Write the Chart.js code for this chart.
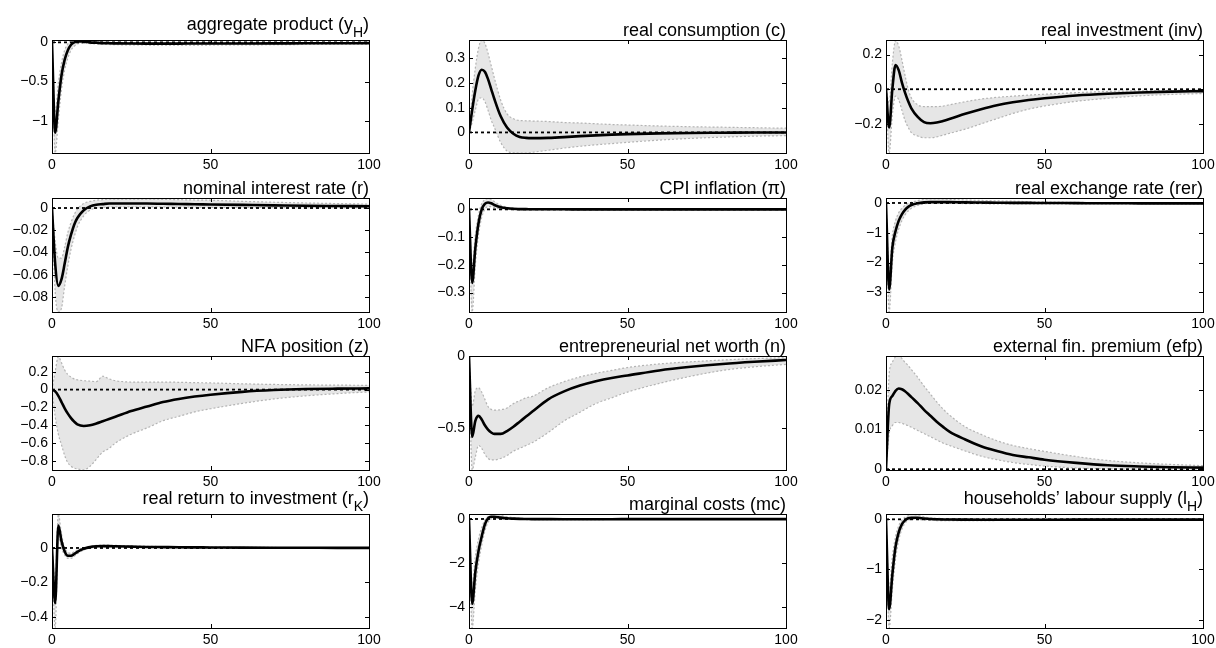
<!DOCTYPE html>
<html>
<head>
<meta charset="utf-8">
<script src="https://cdn.jsdelivr.net/npm/chart.js@4.4.1/dist/chart.umd.min.js"></script>
<style>
  html, body { margin: 0; padding: 0; background: #fff; overflow: hidden; }
  #page { position: relative; width: 1216px; height: 648px; }
  #page canvas { position: absolute; }
</style>
</head>
<body>
<div id="page"></div>
<script>
const periods = [0, 1, 2, 3, 4, 5, 6, 7, 8, 10, 12, 14, 16, 18, 20, 25, 30, 35, 40, 45, 50, 60, 70, 80, 90, 100];
const xTicks = [0, 50, 100];

const titles = [
    "aggregate product (y_H)", "real consumption (c)", "real investment (inv)",
    "nominal interest rate (r)", "CPI inflation (\u03c0)", "real exchange rate (rer)",
    "NFA position (z)", "entrepreneurial net worth (n)", "external fin. premium (efp)",
    "real return to investment (r_K)", "marginal costs (mc)", "households\u2019 labour supply (l_H)",
];

// aggregate product
const yH_mid = [0, -1.15, -0.75, -0.42, -0.22, -0.1, -0.03, 0, 0.01, 0.01, 0, -0.005, -0.01, -0.012, -0.013, -0.015, -0.016, -0.016, -0.016, -0.015, -0.015, -0.014, -0.013, -0.012, -0.011, -0.01];
const yH_hi = [0, -0.9, -0.52, -0.26, -0.1, -0.02, 0.02, 0.03, 0.03, 0.025, 0.015, 0.008, 0.004, 0.002, 0, -0.003, -0.004, -0.005, -0.005, -0.005, -0.005, -0.004, -0.004, -0.003, -0.003, -0.003];
const yH_lo = [0, -1.41, -0.98, -0.6, -0.35, -0.2, -0.1, -0.05, -0.02, -0.01, -0.015, -0.02, -0.024, -0.027, -0.03, -0.032, -0.034, -0.035, -0.035, -0.035, -0.034, -0.032, -0.03, -0.027, -0.024, -0.022];

// real consumption
const c_mid = [0, 0.09, 0.17, 0.23, 0.253, 0.245, 0.215, 0.175, 0.135, 0.065, 0.02, -0.005, -0.018, -0.022, -0.023, -0.022, -0.019, -0.015, -0.012, -0.009, -0.007, -0.004, -0.002, -0.001, 0, 0];
const c_hi = [0, 0.15, 0.26, 0.34, 0.372, 0.36, 0.32, 0.27, 0.22, 0.13, 0.075, 0.055, 0.048, 0.047, 0.046, 0.044, 0.04, 0.038, 0.035, 0.032, 0.03, 0.026, 0.023, 0.021, 0.019, 0.017];
const c_lo = [0, 0.04, 0.09, 0.135, 0.14, 0.125, 0.09, 0.05, 0.02, -0.04, -0.075, -0.082, -0.083, -0.083, -0.08, -0.072, -0.063, -0.056, -0.05, -0.045, -0.04, -0.031, -0.024, -0.019, -0.015, -0.013];

// real investment
const inv_mid = [0, -0.22, 0.0, 0.14, 0.11, 0.04, -0.02, -0.07, -0.11, -0.16, -0.19, -0.196, -0.192, -0.183, -0.172, -0.142, -0.115, -0.092, -0.075, -0.062, -0.052, -0.036, -0.026, -0.019, -0.014, -0.011];
const inv_hi = [0, -0.08, 0.15, 0.28, 0.25, 0.17, 0.08, 0.0, -0.05, -0.09, -0.1, -0.1, -0.1, -0.097, -0.09, -0.072, -0.057, -0.047, -0.04, -0.034, -0.029, -0.02, -0.013, -0.009, -0.007, -0.006];
const inv_lo = [0, -0.368, -0.15, -0.04, -0.06, -0.12, -0.18, -0.22, -0.25, -0.27, -0.28, -0.28, -0.275, -0.265, -0.255, -0.23, -0.2, -0.17, -0.14, -0.115, -0.097, -0.07, -0.052, -0.038, -0.03, -0.025];

// nominal interest rate
const r_mid = [0, -0.05, -0.07, -0.064, -0.05, -0.035, -0.024, -0.015, -0.009, -0.002, 0.0015, 0.003, 0.0035, 0.004, 0.004, 0.004, 0.004, 0.0038, 0.0036, 0.0034, 0.0032, 0.0028, 0.0024, 0.002, 0.0018, 0.0016];
const r_hi = [0, -0.03, -0.045, -0.045, -0.035, -0.022, -0.013, -0.006, -0.001, 0.004, 0.006, 0.007, 0.0075, 0.008, 0.008, 0.008, 0.008, 0.0078, 0.0075, 0.0072, 0.007, 0.006, 0.0052, 0.0045, 0.004, 0.0035];
const r_lo = [0, -0.075, -0.0935, -0.09, -0.07, -0.052, -0.037, -0.026, -0.017, -0.007, -0.002, 0, 0.0005, 0.001, 0.001, 0.001, 0.001, 0.0009, 0.0008, 0.0007, 0.0006, 0.0005, 0.0004, 0.0003, 0.0002, 0.0001];

// CPI inflation
const pi_mid = [0, -0.265, -0.14, -0.05, 0, 0.02, 0.025, 0.022, 0.016, 0.008, 0.004, 0.002, 0.001, 0.0008, 0.0005, 0.0003, 0.0002, 0.0001, 0, 0, 0, 0, 0, 0, 0, 0];
const pi_hi = [0, -0.2, -0.09, -0.02, 0.02, 0.035, 0.04, 0.036, 0.028, 0.015, 0.008, 0.005, 0.003, 0.0025, 0.002, 0.0018, 0.0016, 0.0015, 0.0014, 0.0013, 0.0012, 0.001, 0.001, 0.0009, 0.0008, 0.0008];
const pi_lo = [0, -0.37, -0.2, -0.09, -0.03, 0.0, 0.01, 0.01, 0.007, 0.002, 0, -0.001, -0.0012, -0.0012, -0.0012, -0.0011, -0.001, -0.001, -0.0009, -0.0009, -0.0008, -0.0008, -0.0007, -0.0007, -0.0006, -0.0006];

// real exchange rate
const rer_mid = [0, -2.9, -1.5, -0.95, -0.6, -0.38, -0.23, -0.13, -0.07, -0.01, 0.02, 0.03, 0.03, 0.03, 0.028, 0.02, 0.015, 0.01, 0.005, 0.002, 0, -0.005, -0.01, -0.012, -0.013, -0.014];
const rer_hi = [0, -2.3, -1.1, -0.6, -0.33, -0.18, -0.08, -0.02, 0.02, 0.08, 0.12, 0.14, 0.14, 0.13, 0.12, 0.1, 0.085, 0.07, 0.06, 0.045, 0.035, 0.02, 0.01, 0.005, 0.002, 0];
const rer_lo = [0, -3.66, -2.0, -1.3, -0.88, -0.6, -0.4, -0.27, -0.18, -0.08, -0.03, -0.01, 0, -0.005, -0.01, -0.02, -0.025, -0.03, -0.032, -0.033, -0.034, -0.035, -0.035, -0.035, -0.035, -0.035];

// NFA position
const z_mid = [0, -0.02, -0.07, -0.14, -0.21, -0.27, -0.32, -0.36, -0.39, -0.408, -0.4, -0.38, -0.355, -0.33, -0.305, -0.24, -0.19, -0.14, -0.105, -0.078, -0.057, -0.025, -0.005, 0.006, 0.011, 0.014];
const z_hi = [0, 0.2, 0.37, 0.3, 0.22, 0.17, 0.14, 0.12, 0.11, 0.1, 0.095, 0.09, 0.15, 0.12, 0.1, 0.085, 0.085, 0.085, 0.082, 0.078, 0.075, 0.065, 0.058, 0.053, 0.05, 0.048];
const z_lo = [0, -0.3, -0.5, -0.62, -0.74, -0.82, -0.86, -0.88, -0.89, -0.9, -0.86, -0.78, -0.7, -0.66, -0.6, -0.5, -0.43, -0.35, -0.3, -0.25, -0.215, -0.155, -0.105, -0.07, -0.045, -0.026];

// entrepreneurial net worth
const n_mid = [0, -0.56, -0.45, -0.415, -0.44, -0.48, -0.51, -0.53, -0.54, -0.54, -0.52, -0.49, -0.455, -0.42, -0.385, -0.3, -0.245, -0.205, -0.175, -0.152, -0.135, -0.1, -0.075, -0.055, -0.04, -0.028];
const n_hi = [0, -0.35, -0.24, -0.22, -0.25, -0.3, -0.35, -0.37, -0.375, -0.372, -0.36, -0.33, -0.31, -0.29, -0.28, -0.22, -0.178, -0.145, -0.12, -0.1, -0.08, -0.055, -0.04, -0.028, -0.018, -0.012];
const n_lo = [0, -0.79, -0.7, -0.62, -0.64, -0.68, -0.71, -0.72, -0.72, -0.71, -0.69, -0.66, -0.64, -0.62, -0.6, -0.53, -0.45, -0.39, -0.33, -0.29, -0.25, -0.19, -0.14, -0.1, -0.075, -0.058];

// external finance premium
const efp_mid = [0, 0.0164, 0.0185, 0.0198, 0.0204, 0.0202, 0.0197, 0.019, 0.0182, 0.0167, 0.015, 0.0135, 0.012, 0.0107, 0.0095, 0.0075, 0.0058, 0.0046, 0.0036, 0.003, 0.0024, 0.0016, 0.001, 0.0007, 0.0005, 0.0004];
const efp_hi = [0, 0.024, 0.027, 0.0284, 0.0286, 0.028, 0.027, 0.0262, 0.0252, 0.0232, 0.021, 0.019, 0.017, 0.0152, 0.0137, 0.0107, 0.0088, 0.0072, 0.006, 0.0052, 0.0045, 0.0032, 0.0022, 0.0016, 0.0012, 0.0009];
const efp_lo = [0, 0.009, 0.011, 0.0118, 0.0118, 0.0116, 0.0113, 0.011, 0.0106, 0.0098, 0.009, 0.0082, 0.0074, 0.0066, 0.006, 0.0046, 0.0033, 0.0024, 0.0017, 0.0012, 0.0008, 0.0003, 0.0001, 0, 0, 0];

// real return to investment
const rK_mid = [0, -0.32, 0.13, 0.04, -0.02, -0.045, -0.045, -0.035, -0.022, -0.005, 0.005, 0.01, 0.011, 0.011, 0.01, 0.008, 0.006, 0.005, 0.004, 0.0035, 0.003, 0.002, 0.0015, 0.001, 0.0008, 0.0006];
const rK_hi = [0, -0.2, 0.197, 0.08, 0.0, -0.025, -0.03, -0.022, -0.012, 0.002, 0.01, 0.015, 0.016, 0.016, 0.015, 0.012, 0.01, 0.008, 0.007, 0.006, 0.005, 0.004, 0.003, 0.002, 0.002, 0.0015];
const rK_lo = [0, -0.464, 0.07, 0.0, -0.04, -0.06, -0.06, -0.048, -0.033, -0.012, 0, 0.005, 0.006, 0.006, 0.005, 0.004, 0.003, 0.0025, 0.002, 0.0015, 0.001, 0, 0, 0, 0, 0];

// marginal costs
const mc_mid = [0, -3.85, -2.4, -1.45, -0.8, -0.25, 0.03, 0.1, 0.1, 0.06, 0.03, 0.015, 0.005, 0, -0.005, -0.008, -0.01, -0.01, -0.01, -0.009, -0.008, -0.007, -0.006, -0.005, -0.005, -0.005];
const mc_hi = [0, -3.0, -1.7, -0.9, -0.4, -0.05, 0.12, 0.2, 0.22, 0.17, 0.1, 0.06, 0.035, 0.02, 0.015, 0.01, 0.01, 0.01, 0.009, 0.008, 0.008, 0.007, 0.006, 0.005, 0.005, 0.005];
const mc_lo = [0, -4.95, -3.2, -2.0, -1.2, -0.55, -0.15, 0, 0.03, 0.02, 0, -0.01, -0.02, -0.025, -0.03, -0.03, -0.03, -0.028, -0.026, -0.024, -0.022, -0.02, -0.018, -0.016, -0.015, -0.015];

// households' labour supply
const lH_mid = [0, -1.79, -1.1, -0.55, -0.26, -0.1, -0.02, 0.02, 0.03, 0.03, 0.015, 0.005, 0, -0.003, -0.005, -0.007, -0.008, -0.008, -0.008, -0.008, -0.008, -0.007, -0.007, -0.006, -0.006, -0.006];
const lH_hi = [0, -1.4, -0.75, -0.35, -0.13, -0.02, 0.04, 0.07, 0.1, 0.08, 0.05, 0.03, 0.02, 0.015, 0.01, 0.007, 0.005, 0.005, 0.005, 0.005, 0.005, 0.004, 0.004, 0.004, 0.004, 0.004];
const lH_lo = [0, -2.166, -1.4, -0.8, -0.42, -0.2, -0.08, -0.02, 0, -0.005, -0.015, -0.02, -0.025, -0.025, -0.025, -0.025, -0.025, -0.024, -0.023, -0.022, -0.021, -0.02, -0.019, -0.018, -0.017, -0.016];

// y axis limits and ticks per panel
const yMin = [-1.41, -0.083, -0.368, -0.0935, -0.37, -3.66, -0.902, -0.79, -0.0002, -0.464, -4.95, -2.166];
const yMax = [0.03, 0.373, 0.284, 0.009, 0.041, 0.167, 0.377, 0, 0.0286, 0.197, 0.226, 0.106];
const yTicks = [
    [-1, -0.5, 0], [0, 0.1, 0.2, 0.3], [-0.2, 0, 0.2],
    [-0.08, -0.06, -0.04, -0.02, 0], [-0.3, -0.2, -0.1, 0], [-3, -2, -1, 0],
    [-0.8, -0.6, -0.4, -0.2, 0, 0.2], [-0.5, 0], [0, 0.01, 0.02],
    [-0.4, -0.2, 0], [-4, -2, 0], [-2, -1, 0],
];

const mids = [yH_mid, c_mid, inv_mid, r_mid, pi_mid, rer_mid, z_mid, n_mid, efp_mid, rK_mid, mc_mid, lH_mid];
const his = [yH_hi, c_hi, inv_hi, r_hi, pi_hi, rer_hi, z_hi, n_hi, efp_hi, rK_hi, mc_hi, lH_hi];
const los = [yH_lo, c_lo, inv_lo, r_lo, pi_lo, rer_lo, z_lo, n_lo, efp_lo, rK_lo, mc_lo, lH_lo];

// page layout (plot areas)
const colLeft = [52, 469, 886];
const colRight = [369, 786, 1203];
const rowTop = [40, 198, 356, 514];
const rowBottom = [153, 312, 470, 628];
const PAD_L = 60, PAD_T = 40, PAD_R = 24, PAD_B = 26;

Chart.defaults.font.family = "'Liberation Sans', Arial, Helvetica, sans-serif";
Chart.defaults.color = "#000";

const tickFont = { size: 14 };

function fmtTick(v) {
    return v < 0 ? "\u2212" + String(-v) : String(v);
}

function toPoints(arr) {
    return periods.map((p, i) => ({ x: p, y: arr[i] }));
}

// box, inward ticks on all sides and the title (with subscript)
const irfFrame = {
    id: "irfFrame",
    afterDraw(chart, args, opts) {
        const { ctx, chartArea: a, scales } = chart;
        ctx.save();
        ctx.strokeStyle = "#000";
        ctx.lineWidth = 1;
        ctx.strokeRect(a.left + 0.5, a.top + 0.5, a.right - a.left, a.bottom - a.top);

        const len = 4;
        ctx.beginPath();
        scales.x.ticks.forEach((t) => {
            const px = Math.round(scales.x.getPixelForValue(t.value)) + 0.5;
            ctx.moveTo(px, a.top);
            ctx.lineTo(px, a.top + len);
            ctx.moveTo(px, a.bottom);
            ctx.lineTo(px, a.bottom - len);
        });
        scales.y.ticks.forEach((t) => {
            const py = Math.round(scales.y.getPixelForValue(t.value)) + 0.5;
            ctx.moveTo(a.left, py);
            ctx.lineTo(a.left + len, py);
            ctx.moveTo(a.right, py);
            ctx.lineTo(a.right - len, py);
        });
        ctx.stroke();

        // title, right aligned on the box
        const parts = opts.text.split(/_(\w)/);
        const hasSub = parts.length > 1;
        const mainFont = "18px 'Liberation Sans', Arial, sans-serif";
        const subFont = "14px 'Liberation Sans', Arial, sans-serif";
        let total = 0;
        const widths = parts.map((s, k) => {
            ctx.font = k % 2 ? subFont : mainFont;
            const w = ctx.measureText(s).width;
            total += w;
            return w;
        });
        let x = a.right - total;
        ctx.fillStyle = "#000";
        ctx.textAlign = "left";
        ctx.textBaseline = "alphabetic";
        parts.forEach((s, k) => {
            const sub = k % 2 === 1;
            ctx.font = sub ? subFont : mainFont;
            const base = hasSub ? (sub ? a.top - 3 : a.top - 10) : a.top - 4;
            ctx.fillText(s, x, base);
            x += widths[k];
        });
        ctx.restore();
    },
};

function initializeCharts() {
    const page = document.getElementById("page");

    for (let i = 0; i < 12; i++) {
        const row = Math.floor(i / 3);
        const col = i % 3;
        const L = colLeft[col], R = colRight[col];
        const T = rowTop[row], B = rowBottom[row];

        const canvas = document.createElement("canvas");
        canvas.width = R - L + PAD_L + PAD_R;
        canvas.height = B - T + PAD_T + PAD_B;
        canvas.style.left = L - PAD_L + "px";
        canvas.style.top = T - PAD_T + "px";
        canvas.style.width = canvas.width + "px";
        canvas.style.height = canvas.height + "px";
        page.appendChild(canvas);

        const config = {
            type: "line",
            data: {
                datasets: [
                    {
                        data: toPoints(mids[i]),
                        borderColor: "#000",
                        borderWidth: 2.6,
                        pointRadius: 0,
                        cubicInterpolationMode: "monotone",
                        fill: false,
                    },
                    {
                        data: [{ x: 0, y: 0 }, { x: 100, y: 0 }],
                        borderColor: "#000",
                        borderWidth: 1.8,
                        borderDash: [3, 3],
                        pointRadius: 0,
                        fill: false,
                    },
                    {
                        data: toPoints(his[i]),
                        borderColor: "#b4b4b4",
                        borderWidth: 1.2,
                        borderDash: [2, 2],
                        pointRadius: 0,
                        cubicInterpolationMode: "monotone",
                        fill: false,
                    },
                    {
                        data: toPoints(los[i]),
                        borderColor: "#b4b4b4",
                        borderWidth: 1.2,
                        borderDash: [2, 2],
                        pointRadius: 0,
                        cubicInterpolationMode: "monotone",
                        fill: "-1",
                        backgroundColor: "#e6e6e6",
                    },
                ],
            },
            options: {
                responsive: false,
                animation: false,
                devicePixelRatio: 1,
                layout: { padding: { left: 0, top: PAD_T, right: PAD_R, bottom: 0 } },
                plugins: {
                    legend: { display: false },
                    tooltip: { enabled: false },
                    filler: { drawTime: "beforeDatasetsDraw" },
                    irfFrame: { text: titles[i] },
                },
                scales: {
                    x: {
                        type: "linear",
                        min: 0,
                        max: 100,
                        grid: { display: false, drawTicks: false },
                        border: { display: false },
                        afterBuildTicks: (s) => {
                            s.ticks = xTicks.map((v) => ({ value: v }));
                        },
                        afterFit: (s) => {
                            s.height = PAD_B;
                        },
                        ticks: { padding: 4, font: tickFont, autoSkip: false, maxRotation: 0 },
                    },
                    y: {
                        type: "linear",
                        min: yMin[i],
                        max: yMax[i],
                        grid: { display: false, drawTicks: false },
                        border: { display: false },
                        afterBuildTicks: (s) => {
                            s.ticks = yTicks[i].map((v) => ({ value: v }));
                        },
                        afterFit: (s) => {
                            s.width = PAD_L;
                        },
                        ticks: { padding: 4, font: tickFont, autoSkip: false, callback: fmtTick },
                    },
                },
            },
            plugins: [irfFrame],
        };

        canvas.chart = new Chart(canvas, config);
    }
}

document.addEventListener("DOMContentLoaded", initializeCharts);
</script>
</body>
</html>
